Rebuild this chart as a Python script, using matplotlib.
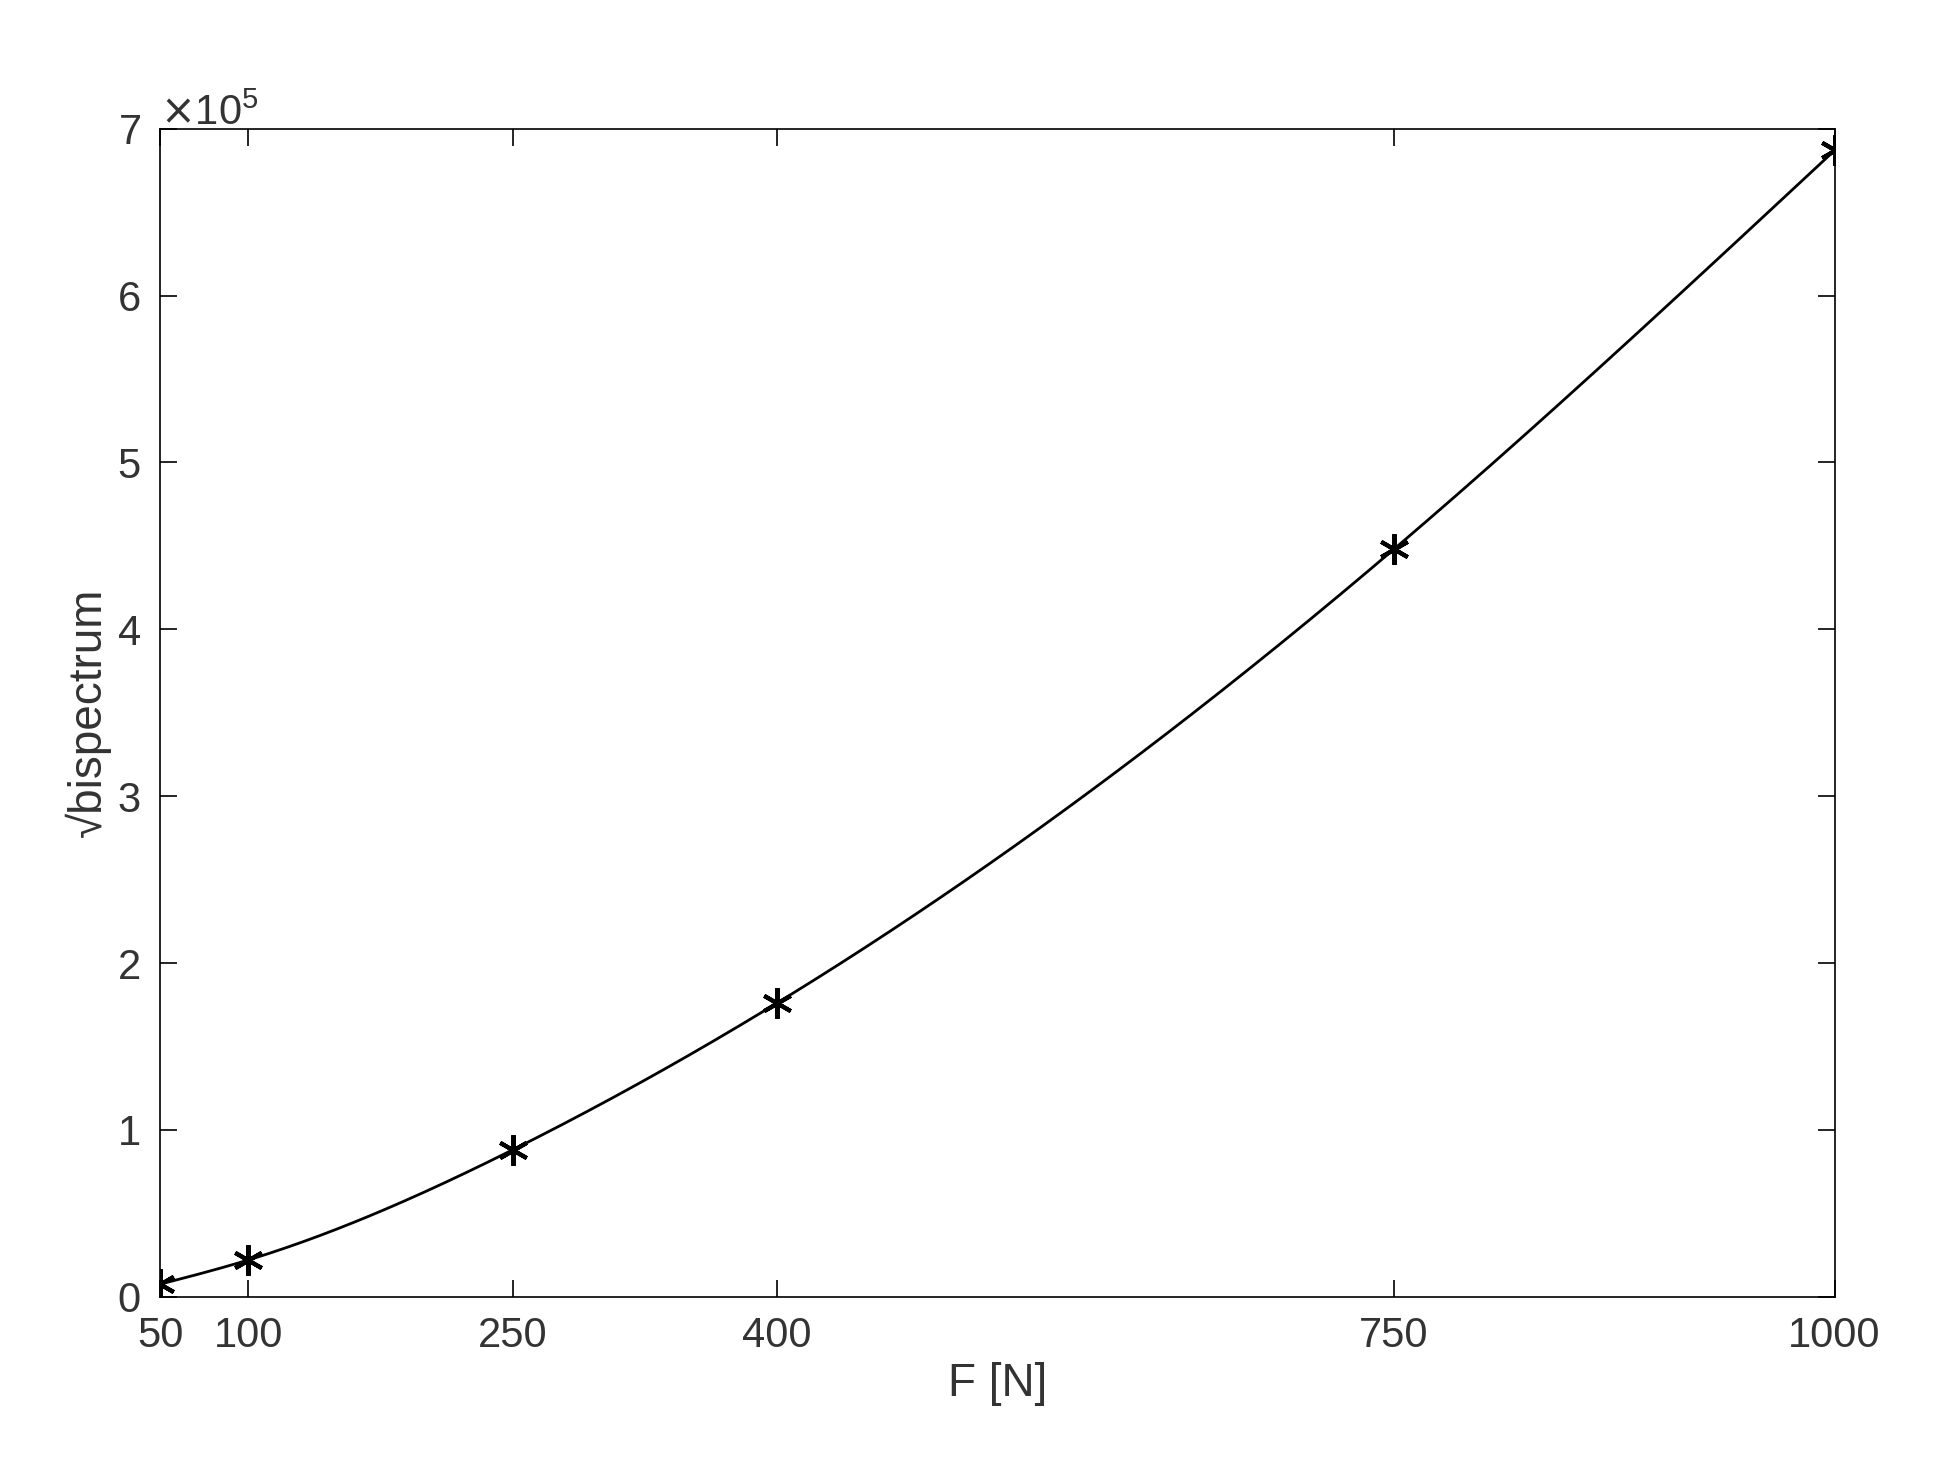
import numpy as np
import matplotlib.pyplot as plt

plt.rcParams['font.family'] = ['Liberation Sans', 'DejaVu Sans']

# Data (y in units of 1e5)
force = np.array([50, 100, 250, 400, 750, 1000])
bispec = np.array([0.075, 0.22, 0.88, 1.76, 4.48, 6.87]) * 1e5
xticks = [50, 100, 250, 400, 750, 1000]


# natural cubic spline through the measured points (for the smooth line)
def natural_spline(x, y, xs):
    n = len(x)
    h = np.diff(x)
    A = np.zeros((n, n))
    b = np.zeros(n)
    A[0, 0] = A[-1, -1] = 1
    for i in range(1, n - 1):
        A[i, i - 1] = h[i - 1]
        A[i, i] = 2 * (h[i - 1] + h[i])
        A[i, i + 1] = h[i]
        b[i] = 6 * ((y[i + 1] - y[i]) / h[i] - (y[i] - y[i - 1]) / h[i - 1])
    M = np.linalg.solve(A, b)
    idx = np.clip(np.searchsorted(x, xs) - 1, 0, n - 2)
    xi, hi = x[idx], h[idx]
    t1 = x[idx + 1] - xs
    t0 = xs - xi
    return (M[idx] * t1**3 + M[idx + 1] * t0**3) / (6 * hi) \
        + (y[idx] / hi - M[idx] * hi / 6) * t1 \
        + (y[idx + 1] / hi - M[idx + 1] * hi / 6) * t0


xs = np.linspace(force[0], force[-1], 400)
ys = natural_spline(force.astype(float), bispec, xs)

fig = plt.figure(figsize=(19.37, 14.57), dpi=100)
ax = fig.add_axes([0.0826, 0.110, 0.8645, 0.8016])
ax.plot(xs, ys, color='black', lw=2)
ax.plot(force, bispec, ls='none', marker=(6, 2, 0), ms=22, mew=3, color='black')

ax.set_xlim(50, 1000)
ax.set_ylim(0, 7e5)
ax.set_xticks(xticks)
ax.set_yticks(np.arange(0, 8) * 1e5)
ax.ticklabel_format(axis='y', style='sci', scilimits=(0, 0), useMathText=True)
ax.yaxis.get_offset_text().set_fontsize(30)
ax.yaxis.get_offset_text().set_color('#333333')

ax.tick_params(direction='in', length=12, width=1.2, top=True, right=True,
               labelsize=30, labelcolor='#333333', pad=14)
for s in ax.spines.values():
    s.set_linewidth(1.2)

ax.set_xlabel('F [N]', fontsize=33, color='#333333')
ax.set_ylabel('√bispectrum', fontsize=33, color='#333333')

fig.savefig('out.png', dpi=100)
